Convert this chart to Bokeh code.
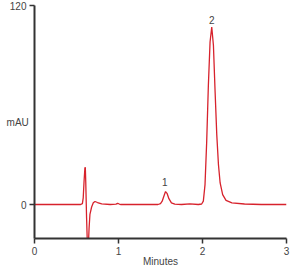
from bokeh.plotting import figure
from bokeh.models import Range1d, FixedTicker
from bokeh.core.properties import value
from bokeh.embed import file_html
from bokeh.resources import INLINE

# Chromatogram trace (time in minutes, absorbance in mAU)
time_min = [0.0, 0.50, 0.55, 0.57, 0.58, 0.59, 0.60, 0.605, 0.61, 0.62, 0.63, 0.64,
            0.65, 0.66, 0.68, 0.70, 0.72, 0.75, 0.80, 0.90, 0.97, 0.99, 1.01, 1.03,
            1.10, 1.40, 1.47, 1.50, 1.52, 1.54, 1.56, 1.58, 1.60, 1.63, 1.67, 1.75,
            1.85, 1.95, 1.99, 2.01, 2.03, 2.05, 2.07, 2.09, 2.11, 2.13, 2.15, 2.17,
            2.19, 2.21, 2.24, 2.28, 2.35, 2.50, 2.70, 3.0]
signal_mau = [0.0, 0.0, 0.0, 0.5, 4.0, 14.0, 22.0, 22.5, 14.0, -8.0, -25.0, -26.0,
              -14.0, -6.0, -1.5, 1.0, 1.8, 1.2, 0.4, 0.0, 0.2, 0.7, 0.3, 0.0,
              0.0, 0.0, 0.0, 0.5, 2.0, 5.0, 7.8, 6.5, 3.5, 1.0, 0.2, 0.0,
              0.4, 0.0, 0.3, 2.0, 12.0, 38.0, 72.0, 98.0, 107.0, 96.0, 68.0, 42.0,
              24.0, 13.0, 6.0, 2.5, 1.0, 0.3, 0.0, 0.0]

peak_labels = ["1", "2"]
peak_times = [1.55, 2.11]
peak_label_y = [11.0, 109.0]

x_ticks = [0, 1, 2, 3]
y_ticks = [0, 120]

FONT = "Liberation Sans"
FS = "10px"
AX = "#333333"
TXT = "#444444"

p = figure(width=292, height=270, output_backend="svg", toolbar_location=None,
           x_range=Range1d(0, 3), y_range=Range1d(-20.5, 120),
           min_border_left=34, min_border_right=6, min_border_top=5, min_border_bottom=32)
p.outline_line_color = None
p.xgrid.visible = False
p.ygrid.visible = False
p.background_fill_color = "white"
p.border_fill_color = "white"

p.line(time_min, signal_mau, line_color="#d7222c", line_width=1.3)

p.text(x=peak_times, y=peak_label_y, text=peak_labels, text_align="center",
       text_baseline="bottom", text_font_size=value(FS), text_color=TXT,
       text_font=value(FONT))

for ax in (p.xaxis[0], p.yaxis[0]):
    ax.axis_line_color = AX
    ax.axis_line_width = 2
    ax.major_tick_line_color = AX
    ax.major_tick_line_width = 1.5
    ax.major_tick_in = 0
    ax.major_tick_out = 5
    ax.minor_tick_line_color = None
    ax.major_label_text_font = FONT
    ax.major_label_text_font_size = FS
    ax.major_label_text_color = TXT
    ax.major_label_standoff = 3
    ax.axis_label_text_font = FONT
    ax.axis_label_text_font_size = FS
    ax.axis_label_text_font_style = "normal"
    ax.axis_label_text_color = TXT

p.xaxis.ticker = FixedTicker(ticks=x_ticks)
p.yaxis.ticker = FixedTicker(ticks=y_ticks)
p.xaxis.axis_label = "Minutes"
p.xaxis.axis_label_standoff = -2

p.yaxis.axis_label = "mAU"
p.yaxis.axis_label_orientation = "horizontal"
p.yaxis.axis_label_standoff = -22

open("out.html", "w").write(file_html(p, INLINE))
